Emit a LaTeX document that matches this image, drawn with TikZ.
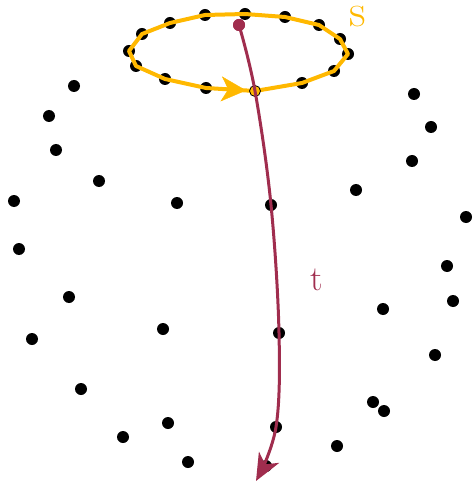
\documentclass[tikz,border=0pt]{standalone}
\usepackage{fontspec}
\usepackage{tikz}
\usetikzlibrary{arrows.meta,decorations.markings}
\definecolor{sorange}{RGB}{255,184,0}
\definecolor{tred}{RGB}{160,45,78}
\tikzset{
  pt/.style={circle,fill=black,minimum size=12pt,inner sep=0pt},
  spt/.style={circle,fill=sorange,draw=black,line width=0.8pt,minimum size=11pt,inner sep=0pt},
  tpt/.style={circle,fill=tred,minimum size=12pt,inner sep=0pt},
  sloop/.style={sorange,line width=4pt,line join=round},
  tcurve/.style={tred,line width=3pt,-{Stealth[length=27pt,width=23pt,inset=8pt]}},
  lbl/.style={inner sep=0pt}
}
\begin{document}
\begin{tikzpicture}[x=1pt,y=-1pt]
        \useasboundingbox (0,0) rectangle (474,486);
        % scattered points
        \foreach \x/\y [count=\i] in {74/86,49/116,56/150,99/181,14/201,177/203,19/249,
            414/94,431/127,412/161,356/190,466/217,69/297,32/339,163/329,81/389,
            168/423,123/437,188/462,447/266,453/301,383/309,435/355,373/402,384/411,337/446}
            \node[pt] (d\i) at (\x,\y) {};
        % points on the loop s
        \foreach \x/\y [count=\i from 2] in {302/83,334/71,348/54,340/39,319/25,285/17,245/14,
            205/15,170/23,142/34,129/51,136/66,165/79,206/88}
            \node[pt] (e\i) at (\x,\y) {};
        % points on the curve t
        \node[pt] (p2) at (271,205) {};
        \node[pt] (p3) at (279,333) {};
        \node[pt] (p4) at (276,427) {};
        \node[pt] (p5) at (266,466) {};
        \coordinate (tip) at (256,481);
        % the loop
        \coordinate (e1) at (255,91);
        \draw[sloop] (e1) \foreach \i in {2,...,15} {-- (e\i.center)} -- cycle;
        \path[postaction={decorate},decoration={markings,
            mark=at position 0.82 with {\arrow[sorange]{Stealth[length=25pt,width=25pt,inset=7pt]}}}]
            (e15.center) -- (e1);
        \node[spt] (s0) at (e1) {};
        % the curve
        \node[tpt] (p1) at (239,25) {};
        \draw[tcurve] plot[smooth,tension=0.6] coordinates {(p1.center) (s0.center) (p2.center) (p3.center) (p4.center) (tip)};
        \node[tpt] at (p1) {};
        \node[lbl,text=sorange,font=\fontsize{46}{46}\selectfont] (lbls) at (358,17) {s};
        \node[lbl,text=tred,font=\fontsize{35}{35}\selectfont] (lblt) at (317,280) {t};
\end{tikzpicture}
\end{document}
